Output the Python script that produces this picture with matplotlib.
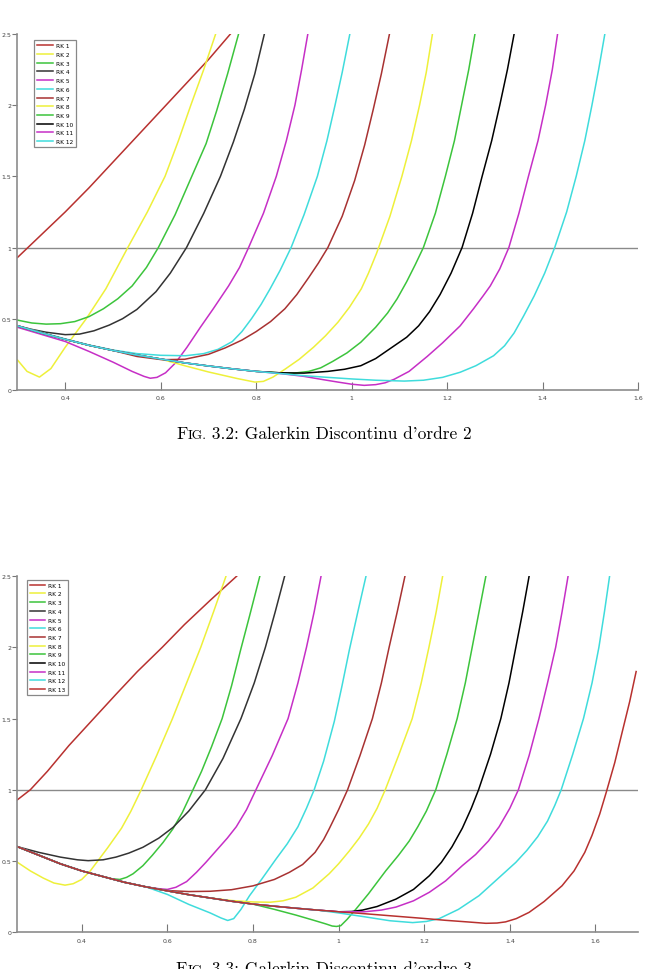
import matplotlib
matplotlib.use("Agg")
import matplotlib.pyplot as plt
from matplotlib.offsetbox import TextArea, HPacker, AnnotationBbox

# ---- Galerkin Discontinu d'ordre 2 (top) ----
# lower branch shared by the later RK curves
env2_x = [0.3, 0.35, 0.4, 0.45, 0.5, 0.55, 0.6, 0.65, 0.7, 0.75, 0.8]
env2_y = [0.45, 0.40, 0.355, 0.313, 0.277, 0.245, 0.217, 0.19, 0.168, 0.148, 0.13]

o2_rk1_x = [0.3, 0.35, 0.4, 0.45, 0.5, 0.55, 0.6, 0.65, 0.7, 0.746]
o2_rk1_y = [0.93, 1.09, 1.25, 1.42, 1.6, 1.78, 1.96, 2.14, 2.32, 2.5]
o2_rk2_x = [0.3, 0.32, 0.346, 0.37, 0.4, 0.444, 0.485, 0.531, 0.572, 0.609, 0.637, 0.663, 0.69, 0.715]
o2_rk2_y = [0.21, 0.13, 0.09, 0.15, 0.30, 0.5, 0.71, 1.0, 1.25, 1.5, 1.75, 2.0, 2.25, 2.5]
o2_rk3_x = [0.3, 0.33, 0.36, 0.39, 0.42, 0.45, 0.48, 0.51, 0.54, 0.57, 0.595, 0.63, 0.665, 0.695, 0.717, 0.74, 0.763]
o2_rk3_y = [0.49, 0.47, 0.462, 0.465, 0.48, 0.515, 0.57, 0.64, 0.73, 0.86, 1.0, 1.23, 1.5, 1.73, 1.96, 2.22, 2.5]
o2_rk4_x = [0.3, 0.33, 0.36, 0.4, 0.43, 0.46, 0.492, 0.52, 0.55, 0.59, 0.62, 0.654, 0.69, 0.725, 0.752, 0.775, 0.797, 0.817]
o2_rk4_y = [0.45, 0.425, 0.405, 0.388, 0.392, 0.415, 0.455, 0.5, 0.565, 0.69, 0.82, 1.0, 1.24, 1.5, 1.74, 1.97, 2.22, 2.5]
o2_rk5_x = [0.3, 0.35, 0.4, 0.45, 0.5, 0.54, 0.565, 0.578, 0.592, 0.61, 0.631, 0.655, 0.683, 0.71,
            0.742, 0.765, 0.784, 0.815, 0.842, 0.863, 0.881, 0.895, 0.908]
o2_rk5_y = [0.44, 0.39, 0.34, 0.27, 0.195, 0.13, 0.095, 0.082, 0.088, 0.12, 0.19, 0.3, 0.44, 0.57,
            0.73, 0.86, 1.0, 1.24, 1.5, 1.75, 2.0, 2.25, 2.5]
o2_rk6_x = [0.3, 0.4, 0.45, 0.5, 0.55, 0.6, 0.652, 0.69, 0.72, 0.75, 0.77, 0.79, 0.81, 0.829, 0.85,
            0.873, 0.9, 0.928, 0.948, 0.965, 0.98, 0.996]
o2_rk6_y = [0.45, 0.358, 0.315, 0.28, 0.255, 0.243, 0.24, 0.255, 0.285, 0.34, 0.41, 0.5, 0.6, 0.71, 0.84,
            1.0, 1.23, 1.5, 1.75, 2.0, 2.23, 2.5]
o2_rk7_x = [0.55, 0.603, 0.65, 0.7, 0.735, 0.77, 0.8, 0.83, 0.86, 0.885, 0.91, 0.93, 0.95, 0.98,
            1.006, 1.027, 1.045, 1.062, 1.079]
o2_rk7_y = [0.235, 0.212, 0.215, 0.25, 0.295, 0.35, 0.41, 0.48, 0.57, 0.67, 0.79, 0.89, 1.0, 1.22,
            1.47, 1.72, 1.97, 2.22, 2.5]
o2_rk8_x = [0.65, 0.7, 0.76, 0.797, 0.815, 0.835, 0.86, 0.89, 0.92, 0.945, 0.971, 0.995, 1.02, 1.035,
            1.052, 1.08, 1.105, 1.125, 1.142, 1.156, 1.169]
o2_rk8_y = [0.17, 0.126, 0.08, 0.055, 0.06, 0.09, 0.145, 0.215, 0.3, 0.38, 0.475, 0.58, 0.71, 0.82,
            0.96, 1.22, 1.5, 1.75, 2.0, 2.23, 2.5]
o2_rk9_x = [0.85, 0.88, 0.91, 0.935, 0.96, 0.99, 1.019, 1.05, 1.075, 1.095, 1.115, 1.133, 1.15, 1.175,
            1.196, 1.215, 1.23, 1.245, 1.258]
o2_rk9_y = [0.12, 0.118, 0.13, 0.155, 0.2, 0.26, 0.335, 0.44, 0.54, 0.64, 0.76, 0.88, 1.0, 1.24,
            1.5, 1.75, 2.0, 2.25, 2.5]
o2_rk10_x = [0.85, 0.9, 0.95, 0.985, 1.019, 1.05, 1.089, 1.115, 1.14, 1.163, 1.185, 1.208, 1.231,
             1.253, 1.273, 1.293, 1.31, 1.326, 1.34]
o2_rk10_y = [0.12, 0.118, 0.13, 0.145, 0.17, 0.22, 0.31, 0.37, 0.45, 0.55, 0.67, 0.82, 1.0,
             1.24, 1.5, 1.75, 2.0, 2.25, 2.5]
o2_rk11_x = [0.85, 0.9, 0.94, 0.971, 1.0, 1.026, 1.05, 1.07, 1.089, 1.12, 1.158, 1.19, 1.227, 1.255,
             1.275, 1.29, 1.31, 1.329, 1.35, 1.37, 1.39, 1.406, 1.42, 1.431]
o2_rk11_y = [0.115, 0.095, 0.072, 0.055, 0.04, 0.032, 0.037, 0.05, 0.075, 0.13, 0.235, 0.33, 0.45, 0.57,
             0.66, 0.73, 0.85, 1.0, 1.24, 1.5, 1.75, 2.0, 2.25, 2.5]
o2_rk12_x = [0.85, 0.9, 0.95, 1.0, 1.05, 1.11, 1.15, 1.19, 1.227, 1.26, 1.297, 1.32, 1.34, 1.36,
             1.382, 1.404, 1.425, 1.45, 1.47, 1.488, 1.503, 1.517, 1.53]
o2_rk12_y = [0.115, 0.1, 0.088, 0.077, 0.068, 0.062, 0.068, 0.088, 0.124, 0.17, 0.24, 0.31, 0.4, 0.52,
             0.66, 0.82, 1.0, 1.25, 1.5, 1.75, 2.0, 2.25, 2.5]

# ---- Galerkin Discontinu d'ordre 3 (bottom) ----
env3_x = [0.25, 0.3, 0.35, 0.4, 0.45, 0.5, 0.55, 0.6, 0.65, 0.7, 0.75, 0.8, 0.85, 0.9, 0.95,
          1.0, 1.05, 1.1, 1.15, 1.2, 1.25, 1.3]
env3_y = [0.6, 0.54, 0.48, 0.43, 0.39, 0.35, 0.318, 0.29, 0.263, 0.24, 0.217, 0.197, 0.182, 0.168, 0.155,
          0.143, 0.132, 0.12, 0.108, 0.096, 0.083, 0.072]

o3_rk1_x = [0.25, 0.28, 0.32, 0.37, 0.428, 0.48, 0.53, 0.588, 0.64, 0.7, 0.762]
o3_rk1_y = [0.93, 1.0, 1.13, 1.31, 1.5, 1.67, 1.83, 2.0, 2.16, 2.33, 2.5]
o3_rk2_x = [0.25, 0.28, 0.31, 0.335, 0.361, 0.38, 0.4, 0.42, 0.435, 0.46, 0.493, 0.515, 0.539, 0.575,
            0.612, 0.645, 0.678, 0.708, 0.737]
o3_rk2_y = [0.49, 0.43, 0.38, 0.345, 0.33, 0.34, 0.37, 0.43, 0.49, 0.59, 0.73, 0.85, 1.0, 1.24,
            1.5, 1.75, 2.0, 2.25, 2.5]
o3_rk3_x = [0.45, 0.47, 0.489, 0.505, 0.52, 0.543, 0.565, 0.59, 0.613, 0.635, 0.66, 0.68, 0.703,
            0.728, 0.75, 0.771, 0.792, 0.816]
o3_rk3_y = [0.39, 0.375, 0.37, 0.385, 0.41, 0.467, 0.54, 0.63, 0.725, 0.84, 1.0, 1.13, 1.3,
            1.5, 1.73, 1.98, 2.22, 2.5]
o3_rk4_x = [0.25, 0.3, 0.35, 0.39, 0.415, 0.45, 0.48, 0.51, 0.543, 0.58, 0.613, 0.65, 0.689, 0.73,
            0.772, 0.803, 0.829, 0.852, 0.874]
o3_rk4_y = [0.6, 0.56, 0.527, 0.508, 0.502, 0.508, 0.527, 0.555, 0.596, 0.66, 0.735, 0.85, 1.0, 1.22,
            1.5, 1.75, 2.0, 2.25, 2.5]
o3_rk5_x = [0.58, 0.6, 0.62, 0.645, 0.668, 0.69, 0.715, 0.74, 0.761, 0.785, 0.807, 0.845, 0.882,
            0.905, 0.925, 0.943, 0.959]
o3_rk5_y = [0.305, 0.30, 0.315, 0.355, 0.42, 0.49, 0.575, 0.66, 0.74, 0.86, 1.0, 1.24, 1.5,
            1.75, 2.0, 2.25, 2.5]
o3_rk6_x = [0.6, 0.65, 0.7, 0.725, 0.741, 0.755, 0.772, 0.792, 0.82, 0.854, 0.88, 0.905, 0.925, 0.943,
            0.965, 0.99, 1.008, 1.025, 1.045, 1.064]
o3_rk6_y = [0.265, 0.195, 0.135, 0.1, 0.082, 0.095, 0.16, 0.256, 0.37, 0.514, 0.62, 0.74, 0.87, 1.0,
            1.2, 1.48, 1.73, 1.98, 2.25, 2.5]
o3_rk7_x = [0.6, 0.65, 0.7, 0.75, 0.8, 0.85, 0.885, 0.916, 0.945, 0.965, 0.978, 1.0, 1.021, 1.05,
            1.079, 1.1, 1.118, 1.137, 1.155]
o3_rk7_y = [0.292, 0.285, 0.287, 0.298, 0.325, 0.37, 0.42, 0.475, 0.56, 0.65, 0.725, 0.86, 1.0, 1.24,
            1.5, 1.75, 2.0, 2.25, 2.5]
o3_rk8_x = [0.75, 0.8, 0.84, 0.87, 0.9, 0.94, 0.978, 1.0, 1.025, 1.048, 1.07, 1.09, 1.109, 1.14,
            1.172, 1.193, 1.211, 1.228, 1.243]
o3_rk8_y = [0.222, 0.212, 0.21, 0.22, 0.245, 0.31, 0.41, 0.48, 0.57, 0.66, 0.76, 0.87, 1.0, 1.24,
            1.5, 1.75, 2.0, 2.25, 2.5]
o3_rk9_x = [0.85, 0.9, 0.94, 0.97, 0.985, 0.995, 1.005, 1.02, 1.04, 1.07, 1.11, 1.14, 1.165, 1.185,
            1.205, 1.227, 1.253, 1.277, 1.296, 1.312, 1.328, 1.344]
o3_rk9_y = [0.16, 0.12, 0.085, 0.058, 0.043, 0.04, 0.045, 0.09, 0.16, 0.27, 0.43, 0.54, 0.64, 0.74,
            0.85, 1.0, 1.25, 1.5, 1.75, 2.0, 2.25, 2.5]
o3_rk10_x = [1.03, 1.056, 1.09, 1.134, 1.175, 1.212, 1.24, 1.265, 1.289, 1.31, 1.327, 1.355, 1.379,
             1.398, 1.414, 1.43, 1.445]
o3_rk10_y = [0.145, 0.155, 0.18, 0.232, 0.3, 0.396, 0.49, 0.6, 0.73, 0.87, 1.0, 1.25, 1.5,
             1.75, 2.0, 2.25, 2.5]
o3_rk11_x = [1.06, 1.1, 1.134, 1.175, 1.212, 1.25, 1.289, 1.32, 1.35, 1.375, 1.4, 1.42, 1.445,
             1.468, 1.488, 1.507, 1.522, 1.536]
o3_rk11_y = [0.143, 0.155, 0.176, 0.22, 0.28, 0.36, 0.467, 0.545, 0.64, 0.74, 0.87, 1.0, 1.24,
             1.5, 1.75, 2.0, 2.25, 2.5]
o3_rk12_x = [1.0, 1.056, 1.12, 1.173, 1.205, 1.235, 1.28, 1.328, 1.37, 1.414, 1.44, 1.465, 1.488, 1.505,
             1.52, 1.547, 1.572, 1.592, 1.608, 1.621, 1.633]
o3_rk12_y = [0.135, 0.11, 0.08, 0.067, 0.075, 0.095, 0.16, 0.256, 0.37, 0.49, 0.575, 0.67, 0.78, 0.89,
             1.0, 1.25, 1.5, 1.75, 2.0, 2.25, 2.5]
o3_rk13_x = [1.344, 1.37, 1.39, 1.415, 1.445, 1.48, 1.522, 1.55, 1.575, 1.592, 1.61, 1.625, 1.645,
             1.662, 1.68, 1.695]
o3_rk13_y = [0.062, 0.064, 0.072, 0.095, 0.139, 0.215, 0.326, 0.43, 0.56, 0.68, 0.83, 0.98, 1.19,
             1.4, 1.62, 1.83]

# colours cycle like the matlab legend
red = "#b8312f"
yellow = "#eef03a"
green = "#3cc43c"
magenta = "#c62fc6"
cyan = "#3fdcdc"
colors = [red, yellow, green, "#333333", magenta, cyan, "#a83232", yellow, green, "#000000", magenta, cyan, red]


def with_env(ex, ey, upto, xs, ys):
    # curve that follows the common lower branch, then leaves it
    hx = [v for v in ex if v <= upto]
    hy = ey[:len(hx)]
    return hx + xs, hy + ys


top_curves = [
    (o2_rk1_x, o2_rk1_y),
    (o2_rk2_x, o2_rk2_y),
    (o2_rk3_x, o2_rk3_y),
    (o2_rk4_x, o2_rk4_y),
    (o2_rk5_x, o2_rk5_y),
    (o2_rk6_x, o2_rk6_y),
    with_env(env2_x, env2_y, 0.5, o2_rk7_x, o2_rk7_y),
    with_env(env2_x, env2_y, 0.6, o2_rk8_x, o2_rk8_y),
    with_env(env2_x, env2_y, 0.8, o2_rk9_x, o2_rk9_y),
    with_env(env2_x, env2_y, 0.8, o2_rk10_x, o2_rk10_y),
    with_env(env2_x, env2_y, 0.8, o2_rk11_x, o2_rk11_y),
    with_env(env2_x, env2_y, 0.8, o2_rk12_x, o2_rk12_y),
]

bot_curves = [
    (o3_rk1_x, o3_rk1_y),
    (o3_rk2_x, o3_rk2_y),
    with_env(env3_x, env3_y, 0.4, o3_rk3_x, o3_rk3_y),
    (o3_rk4_x, o3_rk4_y),
    with_env(env3_x, env3_y, 0.55, o3_rk5_x, o3_rk5_y),
    with_env(env3_x, env3_y, 0.55, o3_rk6_x, o3_rk6_y),
    with_env(env3_x, env3_y, 0.55, o3_rk7_x, o3_rk7_y),
    with_env(env3_x, env3_y, 0.7, o3_rk8_x, o3_rk8_y),
    with_env(env3_x, env3_y, 0.8, o3_rk9_x, o3_rk9_y),
    with_env(env3_x, env3_y, 1.0, o3_rk10_x, o3_rk10_y),
    with_env(env3_x, env3_y, 1.0, o3_rk11_x, o3_rk11_y),
    with_env(env3_x, env3_y, 0.95, o3_rk12_x, o3_rk12_y),
    with_env(env3_x, env3_y, 1.3, o3_rk13_x, o3_rk13_y),
]


def draw(ax, curves, xlim, legend_anchor):
    ax.axhline(1.0, color="#8a8a8a", lw=1.0, zorder=1)
    for i, (x, y) in enumerate(curves):
        ax.plot(x, y, color=colors[i], lw=1.1, label="RK %d" % (i + 1), zorder=2,
                solid_joinstyle="round")
    ax.set_xlim(*xlim)
    ax.set_ylim(0, 2.5)
    ax.set_xticks([0.4, 0.6, 0.8, 1.0, 1.2, 1.4, 1.6])
    ax.set_xticklabels(["0.4", "0.6", "0.8", "1", "1.2", "1.4", "1.6"])
    ax.set_yticks([0, 0.5, 1, 1.5, 2, 2.5])
    ax.set_yticklabels(["0", "0.5", "1", "1.5", "2", "2.5"])
    for s in ["top", "right"]:
        ax.spines[s].set_visible(False)
    for s in ["left", "bottom"]:
        ax.spines[s].set_color("#8c8c8c")
        ax.spines[s].set_linewidth(1.2)
    ax.tick_params(axis="x", direction="in", length=6, width=0.8, color="#777777",
                   labelsize=4.5, labelcolor="#444444", pad=4)
    ax.tick_params(axis="y", direction="out", length=3.5, width=0.8, color="#777777",
                   labelsize=4.5, labelcolor="#444444", pad=1)
    leg = ax.legend(loc="upper left", bbox_to_anchor=legend_anchor, fontsize=4.2,
                    handlelength=2.7, handletextpad=0.5, labelspacing=0.62,
                    borderpad=0.5, fancybox=False, framealpha=1)
    leg.get_frame().set_edgecolor("#888888")
    leg.get_frame().set_linewidth(0.9)


def caption(fig, y, num):
    parts = [
        TextArea("F", textprops=dict(fontfamily="cmr10", fontsize=12.5)),
        TextArea("IG.", textprops=dict(fontfamily="cmr10", fontsize=9.6)),
        TextArea(" %s: Galerkin Discontinu d'ordre %s" % (num, num[-1]),
                 textprops=dict(fontfamily="cmr10", fontsize=12.5)),
    ]
    box = HPacker(children=parts, align="baseline", pad=0, sep=0)
    ab = AnnotationBbox(box, (0.5, y), xycoords="figure fraction",
                        box_alignment=(0.5, 0.5), frameon=False)
    fig.add_artist(ab)


fig = plt.figure(figsize=(6.48, 9.70), dpi=100)
ax1 = fig.add_axes([0.027, 0.597, 0.958, 0.367])
ax2 = fig.add_axes([0.027, 0.038, 0.958, 0.367])

draw(ax1, top_curves, (0.3, 1.6), (0.022, 0.99))
draw(ax2, bot_curves, (0.25, 1.7), (0.01, 0.998))

caption(fig, 1 - 434 / 970, "3.2")
caption(fig, 1 - 969 / 970, "3.3")

fig.savefig("out.png", dpi=100)
